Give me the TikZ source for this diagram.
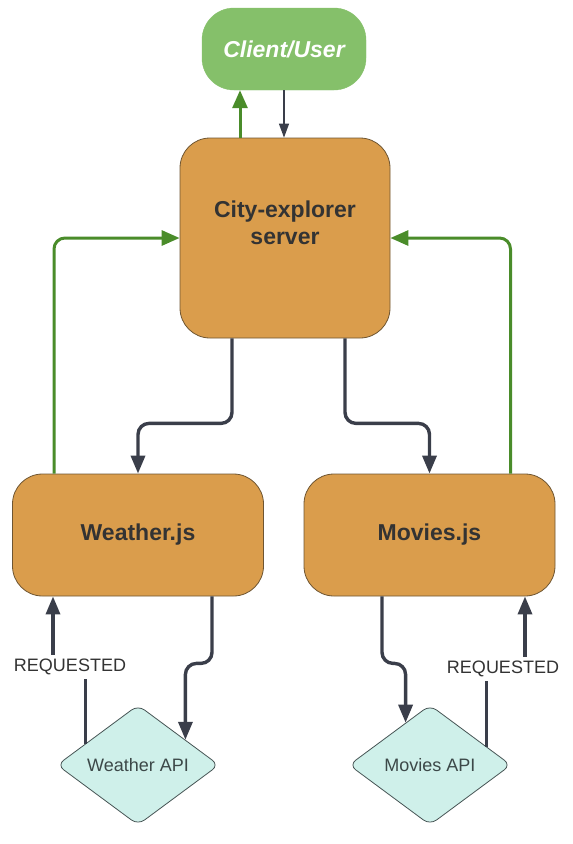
\documentclass[tikz,border=0pt]{standalone}
\usepackage{fontspec}
\setmainfont{Liberation Sans}
\usetikzlibrary{shapes.geometric,arrows.meta}

\definecolor{boxorange}{RGB}{218,157,76}
\definecolor{boxedge}{RGB}{110,85,50}
\definecolor{clientgreen}{RGB}{133,192,106}
\definecolor{arrowgreen}{RGB}{74,140,42}
\definecolor{linegray}{RGB}{58,62,74}
\definecolor{textgray}{RGB}{51,51,51}
\definecolor{apifill}{RGB}{207,240,234}
\definecolor{apiedge}{RGB}{70,84,84}
\definecolor{apitext}{RGB}{60,72,72}

\begin{document}
\begin{tikzpicture}[x=1pt,y=-1pt,
  block/.style={draw=boxedge,fill=boxorange,line width=0.8pt,rounded corners=30pt,
    minimum width=251pt,minimum height=122pt,inner sep=0pt,text=textgray,
    font=\fontsize{23}{27}\selectfont\bfseries,align=center},
  api/.style={diamond,aspect=1.36,draw=apiedge,fill=apifill,line width=0.8pt,
    rounded corners=8pt,minimum width=162pt,minimum height=120pt,inner sep=0pt,
    text=apitext,font=\fontsize{18}{22}\selectfont},
  darkline/.style={draw=linegray,line width=3.4pt,rounded corners=11pt,
    -{Triangle[length=18pt,width=14pt]}},
  greenline/.style={draw=arrowgreen,line width=3pt,rounded corners=11pt,
    -{Triangle[length=18pt,width=15pt]}},
  thinline/.style={draw=linegray,line width=1.4pt,-{Triangle[length=14pt,width=10pt]}},
  reqlabel/.style={fill=white,inner sep=4pt,text=textgray,font=\fontsize{18}{22}\selectfont}
  ]
  \useasboundingbox (0,0) rectangle (573,844);

  % boxes
  \node[draw=clientgreen,fill=clientgreen,rounded corners=32pt,minimum width=164pt,
    minimum height=82pt,text=white,font=\fontsize{23}{27}\selectfont\bfseries\itshape]
    (client) at (284,49) {Client/User};
  \node[block,minimum width=210pt,minimum height=200pt] (server) at (285,238) {};
  \node[text=textgray,font=\fontsize{23}{27}\selectfont\bfseries,align=center]
    (servername) at ([yshift=15pt]server.center) {City-explorer\\server};
  \node[block] (weather) at (138,535) {Weather.js};
  \node[block] (movies) at (429.5,535) {Movies.js};
  \node[api] (wapi) at (138,765) {Weather API};
  \node[api] (mapi) at (430,765) {Movies API};

  % client <-> server
  \coordinate (up) at ([xshift=-45pt]server.north);
  \draw[greenline] (up) -- (up |- client.south);
  \draw[thinline] (client.south) -- (client.south |- server.north);

  % server -> js files
  \draw[darkline] ([xshift=-53pt]server.south) -- ++(0,85) -| (weather.north);
  \draw[darkline] ([xshift=60pt]server.south) -- ++(0,85) -| (movies.north);

  % js files -> server
  \draw[greenline] ([xshift=-84pt]weather.north) |- (server.west);
  \draw[greenline] ([xshift=81pt]movies.north) |- (server.east);

  % js files -> apis
  \draw[darkline] ([xshift=74pt]weather.south) -- ++(0,67) -| (wapi.28);
  \draw[darkline] ([xshift=-47.5pt]movies.south) -- ++(0,67) -| (mapi.120);

  % apis -> js files
  \coordinate (wreq) at (70,667);
  \coordinate (mreq) at (503,669);
  \draw[darkline,rounded corners=0pt] (wapi.158) |- (wreq) -| ([xshift=-85pt]weather.south);
  \draw[darkline,rounded corners=0pt] (mapi.18) |- (mreq) -| ([xshift=95.5pt]movies.south);
  \node[reqlabel] (wreqtext) at (wreq) {REQUESTED};
  \node[reqlabel] (mreqtext) at (mreq) {REQUESTED};
\end{tikzpicture}
\end{document}
